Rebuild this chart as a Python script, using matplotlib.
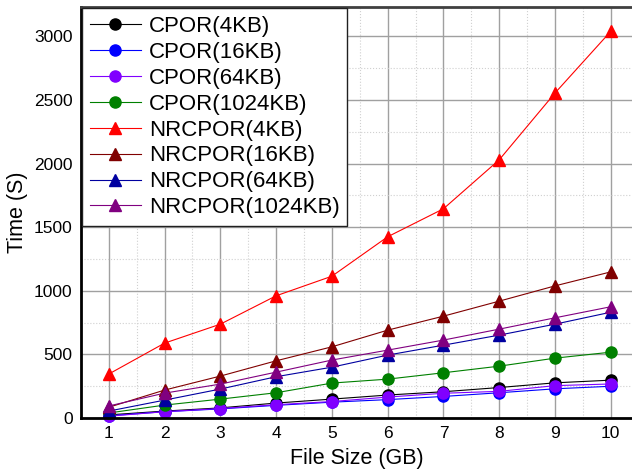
import matplotlib.pyplot as plt
from matplotlib.ticker import MultipleLocator

plt.rcParams['font.family'] = ['Liberation Sans', 'DejaVu Sans']

# file sizes (GB)
file_sizes = [1, 2, 3, 4, 5, 6, 7, 8, 9, 10]

# times (S)
cpor_4kb = [25, 55, 80, 118, 149, 181, 207, 240, 277, 298]
cpor_16kb = [18, 50, 72, 100, 125, 145, 170, 199, 230, 250]
cpor_64kb = [15, 50, 75, 105, 130, 165, 195, 210, 255, 268]
cpor_1024kb = [40, 102, 149, 199, 275, 306, 356, 408, 471, 518]
nrcpor_4kb = [346, 589, 738, 961, 1115, 1425, 1645, 2030, 2555, 3040]
nrcpor_16kb = [85, 220, 330, 450, 560, 691, 801, 919, 1039, 1149]
nrcpor_64kb = [55, 141, 228, 325, 400, 495, 573, 652, 738, 832]
nrcpor_1024kb = [95, 196, 267, 361, 456, 534, 613, 699, 788, 875]

series = [
    ('CPOR(4KB)', cpor_4kb, 'black', 'o'),
    ('CPOR(16KB)', cpor_16kb, '#0000ff', 'o'),
    ('CPOR(64KB)', cpor_64kb, '#8000ff', 'o'),
    ('CPOR(1024KB)', cpor_1024kb, '#008000', 'o'),
    ('NRCPOR(4KB)', nrcpor_4kb, '#ff0000', '^'),
    ('NRCPOR(16KB)', nrcpor_16kb, '#800000', '^'),
    ('NRCPOR(64KB)', nrcpor_64kb, '#0000a0', '^'),
    ('NRCPOR(1024KB)', nrcpor_1024kb, '#800080', '^'),
]

fig = plt.figure(figsize=(6.32, 4.74), dpi=100)
ax = fig.add_axes([0.128, 0.118, 0.872, 0.867])

for label, vals, color, marker in series:
    ms = 8 if marker == 'o' else 9
    ax.plot(file_sizes, vals, color=color, marker=marker, markersize=ms,
            linewidth=0.8, label=label, clip_on=False)

ax.set_xlim(0.5, 10.38)
ax.set_ylim(0, 3230)
ax.xaxis.set_major_locator(MultipleLocator(1))
ax.xaxis.set_minor_locator(MultipleLocator(0.5))
ax.yaxis.set_major_locator(MultipleLocator(500))
ax.yaxis.set_minor_locator(MultipleLocator(250))
ax.grid(which='major', color='#a0a0a0', linewidth=1.0, linestyle='-')
ax.grid(which='minor', color='#d0d0d0', linewidth=0.8, linestyle=':')
ax.set_axisbelow(True)
ax.tick_params(which='both', length=0, labelsize=12.5, pad=6)

for side in ['left', 'bottom']:
    ax.spines[side].set_linewidth(2)
    ax.spines[side].set_color('black')
ax.spines['top'].set_linewidth(2)
ax.spines['top'].set_color('#404040')
ax.spines['right'].set_visible(False)

ax.set_xlabel('File Size (GB)', fontsize=15.5, labelpad=5)
ax.set_ylabel('Time (S)', fontsize=15.5, labelpad=4)

leg = ax.legend(loc='upper left', fontsize=16, fancybox=False, framealpha=1,
                edgecolor='#202020', borderaxespad=0.05, handlelength=2.3,
                handletextpad=0.35, labelspacing=0.22, borderpad=0.35)
leg.get_frame().set_linewidth(1)

fig.savefig('out.png', dpi=100)
